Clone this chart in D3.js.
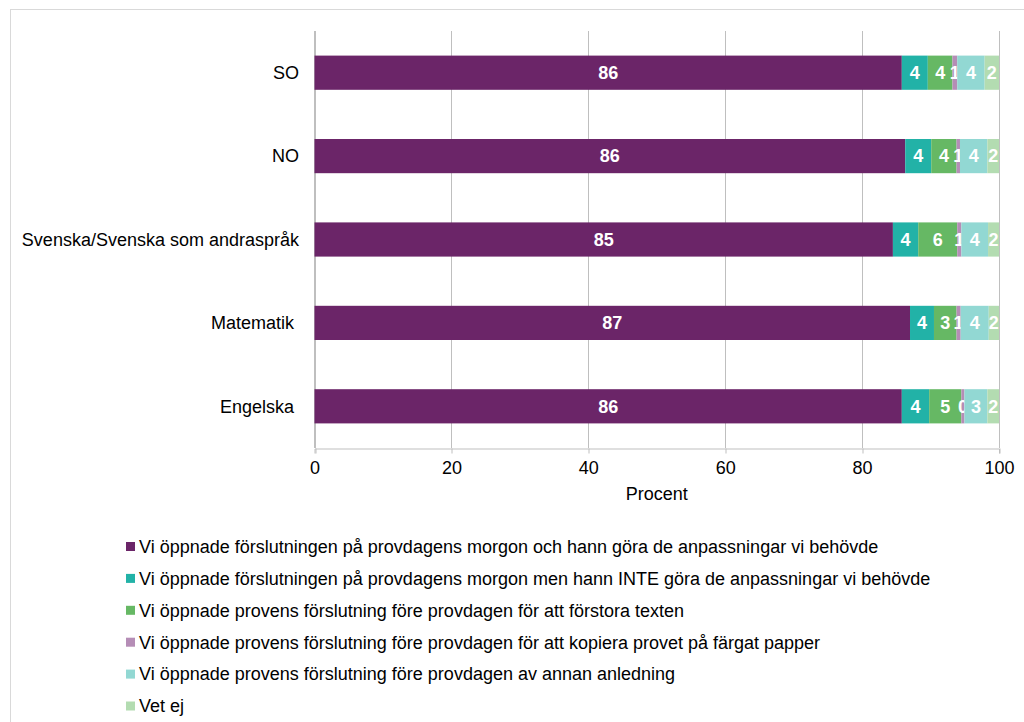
<!DOCTYPE html>
<html lang="sv">
<head>
    <meta charset="UTF-8">
    <title>Förslutning</title>
    <script src="https://cdn.jsdelivr.net/npm/d3@7/dist/d3.min.js"></script>
    <style>
        body, html { margin: 0; padding: 0; background: #fff; overflow: hidden; }
        svg { display: block; font-family: "Liberation Sans", Arial, sans-serif; }
    </style>
</head>
<body>
    <svg id="mainsvg"></svg>
    <script>
        // ämnen, uppifrån och ned
        const subjects = ['SO', 'NO', 'Svenska/Svenska som andraspråk', 'Matematik\u00a0', 'Engelska\u00a0'];

        const seriesNames = [
            'Vi öppnade förslutningen på provdagens morgon och hann göra de anpassningar vi behövde',
            'Vi öppnade förslutningen på provdagens morgon men hann INTE göra de anpassningar vi behövde',
            'Vi öppnade provens förslutning före provdagen för att förstora texten',
            'Vi öppnade provens förslutning före provdagen för att kopiera provet på färgat papper',
            'Vi öppnade provens förslutning före provdagen av annan anledning',
            'Vet ej'
        ];
        const seriesColors = ['#6b2568', '#22b2a7', '#66b864', '#b58db6', '#92d8d3', '#b3dcb1'];

        // procent per serie, i samma ordning som subjects
        const hannGora   = [85.8, 86.3, 84.5, 87.0, 85.8];
        const hannInte   = [3.8, 3.8, 3.7, 3.5, 4.0];
        const forstora   = [3.6, 3.7, 5.7, 3.3, 4.7];
        const fargat     = [0.7, 0.5, 0.6, 0.6, 0.45];
        const annan      = [4.0, 4.0, 3.9, 4.1, 3.35];
        const vetEj      = [2.1, 1.7, 1.6, 1.5, 1.7];
        const seriesValues = [hannGora, hannInte, forstora, fargat, annan, vetEj];

        const xTicks = [0, 20, 40, 60, 80, 100];

        const width = 1024, height = 722;
        const fontSize = '18px';
        const svg = d3.select('svg').attr('width', width).attr('height', height);

        // ram runt diagrammet
        svg.append('rect')
            .attr('x', 10.5).attr('y', 9.5)
            .attr('width', 1100).attr('height', 800)
            .attr('fill', 'none').attr('stroke', '#d9d9d9');

        const xScale = d3.scaleLinear().domain([0, 100]).range([314.5, 999]);
        const yScale = d3.scaleBand().domain(subjects).range([31, 448])
            .paddingInner(0.59).paddingOuter(0.295);

        const gridColor = '#bfbfbf';

        // rutnät
        svg.append('g').selectAll('line').data(xTicks).join('line')
            .attr('x1', d => Math.round(xScale(d)) + 0.5)
            .attr('x2', d => Math.round(xScale(d)) + 0.5)
            .attr('y1', 31).attr('y2', 448)
            .attr('stroke', gridColor);

        // x-axel
        const xAxis = d3.axisBottom(xScale).tickValues(xTicks).tickSize(5).tickPadding(8);
        const xAxisGroup = svg.append('g')
            .attr('transform', 'translate(0, 448.5)')
            .call(xAxis);
        xAxisGroup.select('.domain').attr('stroke', gridColor);
        xAxisGroup.selectAll('.tick line').attr('stroke', gridColor)
            .attr('transform', function(d) { return `translate(${Math.round(xScale(d)) + 0.5 - xScale(d)},0)`; });
        xAxisGroup.selectAll('.tick text')
            .attr('font-size', fontSize).attr('fill', '#000')
            .attr('font-family', '"Liberation Sans", Arial, sans-serif');

        svg.append('text')
            .attr('x', xScale(50)).attr('y', 500)
            .attr('text-anchor', 'middle')
            .attr('font-size', fontSize)
            .text('Procent');

        // y-axel (ämnen)
        svg.append('line')
            .attr('x1', 314.5).attr('x2', 314.5).attr('y1', 31).attr('y2', 448)
            .attr('stroke', gridColor);

        svg.append('g').selectAll('text').data(subjects).join('text')
            .attr('x', 299)
            .attr('y', d => yScale(d) + yScale.bandwidth() / 2)
            .attr('dy', '0.35em')
            .attr('text-anchor', 'end')
            .attr('font-size', fontSize)
            .attr('fill', '#000')
            .text(d => d);

        // staplade segment
        const rows = subjects.map((s, i) => {
            const obj = { subject: s };
            seriesNames.forEach((n, k) => { obj[n] = seriesValues[k][i]; });
            return obj;
        });
        const stacked = d3.stack().keys(seriesNames)(rows);

        const layers = svg.append('g').selectAll('g').data(stacked).join('g')
            .attr('fill', (d, i) => seriesColors[i]);

        layers.selectAll('rect').data(d => d).join('rect')
            .attr('x', d => xScale(d[0]))
            .attr('width', d => xScale(d[1]) - xScale(d[0]))
            .attr('y', d => yScale(d.data.subject))
            .attr('height', yScale.bandwidth());

        layers.selectAll('text').data(d => d).join('text')
            .attr('x', d => (xScale(d[0]) + xScale(d[1])) / 2)
            .attr('y', d => yScale(d.data.subject) + yScale.bandwidth() / 2)
            .attr('dy', '0.35em')
            .attr('text-anchor', 'middle')
            .attr('font-size', fontSize)
            .attr('font-weight', 'bold')
            .attr('fill', '#fff')
            .text(d => Math.round(d[1] - d[0]));

        // förklaring
        const legend = svg.append('g').selectAll('g').data(seriesNames).join('g')
            .attr('transform', (d, i) => `translate(126, ${546.5 + i * 31.9})`);
        legend.append('rect')
            .attr('x', 0).attr('y', -4.5).attr('width', 9).attr('height', 9)
            .attr('fill', (d, i) => seriesColors[i]);
        legend.append('text')
            .attr('x', 13).attr('dy', '0.35em')
            .attr('font-size', fontSize)
            .attr('fill', '#000')
            .text(d => d);
    </script>
</body>
</html>
